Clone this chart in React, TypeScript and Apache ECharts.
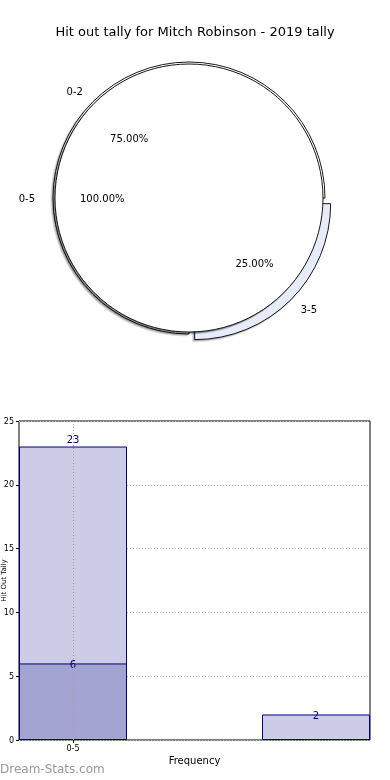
import React, { useEffect, useRef } from "react";
import * as echarts from "echarts";

const TITLE = "Hit out tally for Mitch Robinson - 2019 tally";

// Pie: inner layer
const innerLabels = ["0-5"];
const innerValues = [23];
// Pie: outer layer
const outerLabels = ["0-2", "3-5"];
const outerValues = [6, 2];
const outerColors = ["#ffffff", "#e6ecfa"];

// Bars
const binLabels = ["0-5"];
const binPositions = [0.5, 2.75];
const lightValues = [23, 2];
const darkValues = [6];
const yTicks = [0, 5, 10, 15, 20, 25];

const FONT = "DejaVu Sans";

export default function App() {
  const ref = useRef<HTMLDivElement>(null);
  useEffect(() => {
    document.body.style.margin = "0";
    const chart = echarts.init(ref.current!, undefined, { renderer: "svg" });
    const center = [189, 198];
    const rIn = 134;
    const rOut = 136;
    const pctFmt = (p: any) => p.percent.toFixed(2) + "%";
    const border = { borderColor: "#000", borderWidth: 0.9 };
    const hiddenPie = {
      type: "pie",
      center,
      silent: true,
      startAngle: 0,
      clockwise: false,
      avoidLabelOverlap: false,
      itemStyle: { color: "rgba(0,0,0,0)", borderWidth: 0 },
      emphasis: { disabled: true },
      labelLine: { show: false },
      z: 5,
    };
    const option: any = {
      animation: false,
      textStyle: { fontFamily: FONT },
      title: {
        text: TITLE,
        left: "center",
        top: 20,
        textStyle: { fontFamily: FONT, fontSize: 13, fontWeight: "normal", color: "#000" },
      },
      graphic: [
        {
          type: "text",
          left: 0,
          top: 763,
          style: {
            text: "Dream-Stats.com",
            fontFamily: FONT,
            fontSize: 12,
            fill: "#999999",
          },
        },
      ],
      grid: {
        left: 19,
        right: 20,
        top: 421,
        bottom: 40,
        outerBoundsMode: "none",
        containLabel: false,
        show: true,
        borderColor: "#000",
        borderWidth: 1,
        backgroundColor: "transparent",
      },
      xAxis: {
        type: "value",
        min: 0,
        max: 3.25,
        name: "Frequency",
        nameLocation: "middle",
        nameGap: 15,
        nameMoveOverlap: false,
        nameTextStyle: { fontFamily: FONT, fontSize: 10, color: "#000" },
        axisLine: { show: false },
        splitLine: { show: false },
        axisTick: { show: true, customValues: [binPositions[0]], length: 3, lineStyle: { color: "#000" } },
        axisLabel: {
          customValues: [binPositions[0]],
          formatter: () => binLabels[0],
          fontFamily: FONT,
          fontSize: 8,
          color: "#000",
          margin: 4,
        },
      },
      yAxis: {
        type: "value",
        min: yTicks[0],
        max: yTicks[yTicks.length - 1],
        interval: 5,
        name: "Hit Out Tally",
        nameLocation: "middle",
        nameGap: 12,
        nameMoveOverlap: false,
        nameTextStyle: { fontFamily: FONT, fontSize: 7, color: "#000" },
        axisLine: { show: false },
        axisTick: { show: true, length: 3, lineStyle: { color: "#000" } },
        axisLabel: { fontFamily: FONT, fontSize: 8, color: "#000", margin: 5 },
        splitLine: { show: true, lineStyle: { color: "#b8b8b8", type: [1, 2], width: 1 } },
      },
      series: [
        {
          type: "pie",
          name: "outer",
          center,
          radius: [0, rOut],
          startAngle: 0,
          clockwise: false,
          avoidLabelOverlap: false,
          selectedMode: "single",
          selectedOffset: 8,
          silent: true,
          z: 1,
          itemStyle: {
            ...border,
            shadowColor: "rgba(0,0,0,0.3)",
            shadowOffsetX: -1.5,
            shadowOffsetY: 1.5,
            shadowBlur: 1,
          },
          label: {
            position: "outside",
            fontFamily: FONT,
            fontSize: 10,
            color: "#000",
            distanceToLabelLine: 0,
            formatter: "{b}",
          },
          labelLine: { show: false, length: 14, length2: 0 },
          emphasis: { disabled: true },
          data: outerLabels.map((n, i) => ({
            name: n,
            value: outerValues[i],
            selected: i === 1,
            itemStyle: { color: outerColors[i] },
            select: { itemStyle: { color: outerColors[i], ...border } },
          })),
        },
        {
          type: "pie",
          name: "inner",
          center,
          radius: [0, rIn],
          startAngle: 0,
          clockwise: false,
          avoidLabelOverlap: false,
          silent: true,
          z: 2,
          itemStyle: {
            color: "#ffffff",
            ...border,
            shadowColor: "rgba(0,0,0,0.45)",
            shadowOffsetX: -1.5,
            shadowOffsetY: 1.5,
            shadowBlur: 1,
          },
          label: {
            position: "outside",
            fontFamily: FONT,
            fontSize: 10,
            color: "#000",
            distanceToLabelLine: 0,
            formatter: "{b}",
          },
          labelLine: { show: false, length: 20, length2: 0 },
          emphasis: { disabled: true },
          data: innerLabels.map((n, i) => ({ name: n, value: innerValues[i] })),
        },
        {
          ...hiddenPie,
          name: "outerPct",
          radius: [0, rOut * 1.2],
          selectedMode: "single",
          selectedOffset: 8,
          label: { position: "inside", fontFamily: FONT, fontSize: 10, color: "#000", formatter: pctFmt },
          data: outerLabels.map((n, i) => ({ name: n, value: outerValues[i], selected: i === 1 })),
        },
        {
          ...hiddenPie,
          name: "innerPct",
          radius: [0, rIn * 1.25],
          label: { position: "inside", fontFamily: FONT, fontSize: 10, color: "#000", formatter: pctFmt },
          data: innerLabels.map((n, i) => ({ name: n, value: innerValues[i] })),
        },
        {
          type: "bar",
          name: "light",
          barWidth: 108,
          barGap: "-100%",
          z: 2,
          itemStyle: { color: "#ccccE6", borderColor: "#000080", borderWidth: 1 },
          label: {
            show: true,
            position: "top",
            distance: 2,
            color: "#000080",
            fontFamily: FONT,
            fontSize: 10,
          },
          data: lightValues.map((v, i) =>
            i === 0
              ? { value: [binPositions[i], v] }
              : { value: [binPositions[i], v], label: { distance: -6 } }
          ),
          markLine: {
            silent: true,
            symbol: "none",
            label: { show: false },
            lineStyle: { color: "#a0a0a0", type: [1, 2], width: 1 },
            data: [{ xAxis: binPositions[0] }],
            z: 5,
          },
        },
        {
          type: "bar",
          name: "dark",
          barWidth: 108,
          barGap: "-100%",
          z: 3,
          itemStyle: { color: "#a4a4d2", borderColor: "#000080", borderWidth: 1 },
          label: {
            show: true,
            position: "top",
            distance: -6,
            color: "#000080",
            fontFamily: FONT,
            fontSize: 10,
          },
          data: darkValues.map((v, i) => ({ value: [binPositions[i], v] })),
        },
      ],
    };
    chart.setOption(option);
    return () => chart.dispose();
  }, []);
  return (
    <div
      ref={ref}
      style={{ position: "fixed", left: 0, top: 0, width: 390, height: 780 }}
    />
  );
}
